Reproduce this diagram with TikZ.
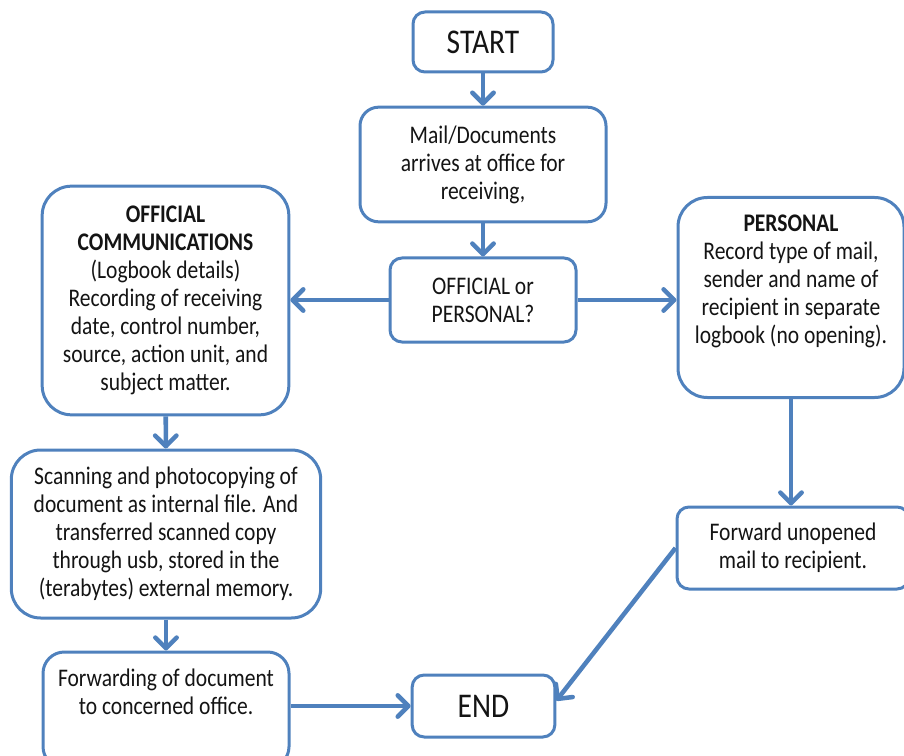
\documentclass[tikz,border=0pt]{standalone}
\usepackage{fontspec}
\setmainfont{Carlito}[FakeStretch=0.85]
\usetikzlibrary{arrows.meta}
\definecolor{flowblue}{RGB}{79,129,189}
\definecolor{flowtext}{RGB}{20,20,20}
\tikzstyle{box}=[draw=flowblue, line width=2.25pt, fill=white, align=center, text=flowtext, inner sep=2pt, font=\fontsize{19}{21}\selectfont]
\tikzstyle{termbox}=[box, rounded corners=9pt, font=\fontsize{26}{28}\selectfont]
\tikzstyle{flow}=[draw=flowblue, line width=3.4pt, -{Straight Barb[length=8pt,width=16pt,round]}]

\begin{document}
\begin{tikzpicture}[x=0.75pt, y=-0.75pt]
        \useasboundingbox (0,0) rectangle (904,756);
        \node[termbox, minimum width=105pt, minimum height=45pt] (start) at (483, 42) {START};
        \node[box, rounded corners=14pt, minimum width=184.5pt, minimum height=86pt] (mail) at (483, 164.5) {Mail/Documents\\arrives at office for\\receiving,};
        \node[box, rounded corners=9pt, minimum width=139.5pt, minimum height=63pt] (decide) at (483, 300) {OFFICIAL or\\PERSONAL?};
        \node[box, rounded corners=22pt, minimum width=185pt, minimum height=171.5pt] (official) at (165.5, 300.5) {\textbf{OFFICIAL}\\\textbf{COMMUNICATIONS}\\(Logbook details)\\Recording of receiving\\date, control number,\\source, action unit, and\\subject matter.};
        \node[box, rounded corners=22pt, minimum width=169.5pt, minimum height=150pt] (personal) at (791, 297.5) {\textbf{PERSONAL}\\Record type of mail,\\sender and name of\\recipient in separate\\logbook (no opening).\\ \strut};
        \node[box, rounded corners=22pt, minimum width=232pt, minimum height=126pt] (scan) at (166, 534) {Scanning and photocopying of\\document as internal file. And\\transferred scanned copy\\through usb, stored in the\\(terabytes) external memory.};
        \node[box, rounded corners=16pt, minimum width=184.5pt, minimum height=87pt] (fwd) at (166, 710) {Forwarding of document\\to concerned office.\\ \strut};
        \node[box, rounded corners=9pt, minimum width=174pt, minimum height=61.5pt] (unopened) at (793, 548) {Forward unopened\\mail to recipient.};
        \node[termbox, minimum width=107pt, minimum height=46.5pt] (end) at (483.5, 706) {END};
        % connectors
        \draw[flow] (start) -- (mail);
        \draw[flow] (mail) -- (decide);
        \draw[flow] (decide.west) -- (decide.west -| official.east);
        \draw[flow] (decide.east) -- (decide.east -| personal.west);
        \draw[flow] (official) -- (scan);
        \draw[flow] (scan) -- (fwd);
        \draw[flow] (fwd.east |- end.west) -- (end.west);
        \draw[flow] (personal.south) -- (personal.south |- unopened.north);
        \draw[flow] (unopened.west) -- ([yshift=4pt]end.east);
    \end{tikzpicture}
\end{document}
